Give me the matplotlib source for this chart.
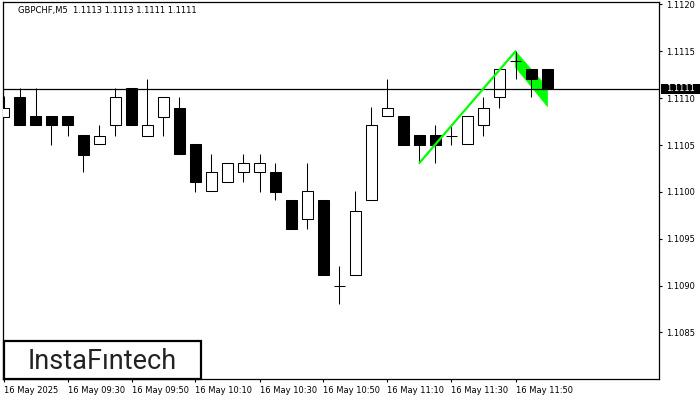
import matplotlib
matplotlib.use('Agg')
import matplotlib.pyplot as plt
from matplotlib.patches import Rectangle, Polygon
import matplotlib.transforms as mtransforms

# ---- data (GBPCHF M5, 16 May 2025, 09:10 .. 12:00) ----
opens  = [1.11080, 1.11101, 1.11081, 1.11081, 1.11081, 1.11061, 1.11051, 1.11071, 1.11111, 1.11060,
          1.11080, 1.11090, 1.11051, 1.11001, 1.11010, 1.11021, 1.11021, 1.11021, 1.10991, 1.10971,
          1.10991, 1.10900, 1.10911, 1.10991, 1.11081, 1.11081, 1.11061, 1.11061, 1.11060, 1.11051,
          1.11071, 1.11101, 1.11140, 1.11131, 1.11131]
highs  = [1.11102, 1.11111, 1.11111, 1.11081, 1.11081, 1.11061, 1.11071, 1.11111, 1.11111, 1.11120,
          1.11101, 1.11101, 1.11051, 1.11040, 1.11031, 1.11040, 1.11040, 1.11031, 1.10991, 1.11031,
          1.10991, 1.10921, 1.11001, 1.11091, 1.11120, 1.11081, 1.11061, 1.11071, 1.11070, 1.11081,
          1.11101, 1.11131, 1.11150, 1.11131, 1.11131]
lows   = [1.11080, 1.11071, 1.11071, 1.11050, 1.11060, 1.11021, 1.11051, 1.11060, 1.11071, 1.11060,
          1.11060, 1.11040, 1.11000, 1.11001, 1.11010, 1.11010, 1.11000, 1.10991, 1.10960, 1.10960,
          1.10911, 1.10880, 1.10911, 1.10991, 1.11081, 1.11050, 1.11031, 1.11031, 1.11050, 1.11051,
          1.11060, 1.11090, 1.11120, 1.11101, 1.11111]
closes = [1.11090, 1.11071, 1.11071, 1.11071, 1.11071, 1.11039, 1.11060, 1.11101, 1.11071, 1.11071,
          1.11101, 1.11040, 1.11010, 1.11021, 1.11031, 1.11031, 1.11031, 1.11000, 1.10960, 1.11001,
          1.10911, 1.10900, 1.10980, 1.11071, 1.11090, 1.11050, 1.11050, 1.11050, 1.11060, 1.11081,
          1.11090, 1.11131, 1.11140, 1.11120, 1.11111]

x_tick_pos = [0, 4, 8, 12, 16, 20, 24, 28, 32]
x_tick_labels = ["16 May 2025", "16 May 09:30", "16 May 09:50", "16 May 10:10", "16 May 10:30",
                 "16 May 10:50", "16 May 11:10", "16 May 11:30", "16 May 11:50"]
y_ticks = [1.1085, 1.1090, 1.1095, 1.1100, 1.1105, 1.1110, 1.1115, 1.1120]
y_tick_labels = ["1.1085", "1.1090", "1.1095", "1.1100", "1.1105", "1.1110", "1.1115", "1.1120"]

bid_price = 1.1111
bid_label = "1.1111"
title_text = "GBPCHF,M5  1.1113 1.1113 1.1111 1.1111"

# bullish flag pattern
pole_x = [26, 32]
pole_y = [1.11031, 1.11150]
flag_x = [32, 34]
flag_upper = [1.11150, 1.11111]
flag_lower = [1.11133, 1.11091]

# ---- figure ----
fig = plt.figure(figsize=(7, 4), dpi=100)
ax = fig.add_axes([2.7 / 700, 1 - 379 / 400, 656.8 / 700, (379 - 2.3) / 400])
ax.set_facecolor('white')

ax.set_xlim(-0.05, 41.0)
ax.set_ylim(1.108003, 1.112023)

body_w = 0.64
lw = 0.75
for i, (o, h, l, c) in enumerate(zip(opens, highs, lows, closes)):
    ax.plot([i, i], [l, h], color='black', lw=lw, zorder=3, solid_capstyle='butt')
    if abs(c - o) < 1e-6:
        ax.plot([i - body_w / 2, i + body_w / 2], [o, o], color='black', lw=lw, zorder=4,
                solid_capstyle='butt')
    else:
        fc = 'white' if c > o else 'black'
        ax.add_patch(Rectangle((i - body_w / 2, min(o, c)), body_w, abs(c - o),
                               facecolor=fc, edgecolor='black', lw=lw, zorder=4))

# flag (behind candles)
poly = Polygon([(flag_x[0], flag_upper[0]), (flag_x[1], flag_upper[1]),
                (flag_x[1], flag_lower[1]), (flag_x[0], flag_lower[0])],
               closed=True, facecolor='#00ff00', edgecolor='#00ff00', lw=0.5, zorder=2)
ax.add_patch(poly)

# bid line
ax.axhline(bid_price, color='black', lw=0.9, zorder=5)

# pole line
ax.plot(pole_x, pole_y, color='#00ff00', lw=1.6, zorder=6, solid_capstyle='round')

# axes styling
for s in ax.spines.values():
    s.set_color('black')
    s.set_linewidth(0.9)
ax.yaxis.tick_right()
ax.set_yticks(y_ticks)
ax.set_yticklabels(y_tick_labels)
ax.set_xticks(x_tick_pos)
ax.set_xticklabels(x_tick_labels, ha='left')
ax.tick_params(axis='y', direction='out', length=2, width=0.8, pad=2.5, labelsize=6,
               colors='black', left=False, right=True)
ax.tick_params(axis='x', direction='out', length=2.2, width=0.8, pad=2.5, labelsize=6,
               colors='black')
for lab in ax.get_xticklabels() + ax.get_yticklabels():
    lab.set_fontfamily('DejaVu Sans')

# bid price label on right axis
trans = mtransforms.blended_transform_factory(ax.transAxes, ax.transData)
ax.add_patch(Rectangle((1.0023, bid_price - 0.0000535), 0.0594, 0.000107, transform=trans,
                       facecolor='black', edgecolor='none', clip_on=False, zorder=10))
ax.text(1.0094, bid_price, bid_label, transform=trans, color='white', fontsize=6,
        va='center', ha='left', zorder=11, clip_on=False)

# title
fig.text(18.3 / 700, 1 - 11 / 400, title_text, fontsize=6, color='black', va='center', ha='left')

# logo box
fig.patches.append(Rectangle((3.5 / 700, 1 - 378.5 / 400), 197 / 700, 37.5 / 400,
                             transform=fig.transFigure, facecolor='white', edgecolor='black',
                             lw=1.6, zorder=20))
fig.text(101.9 / 700, 1 - 369 / 400, "InstaF\u0131ntech", fontsize=19.5, family='Roboto',
         weight='normal', color='#222222', ha='center', va='baseline', zorder=21)

fig.savefig('out.png', dpi=100)
